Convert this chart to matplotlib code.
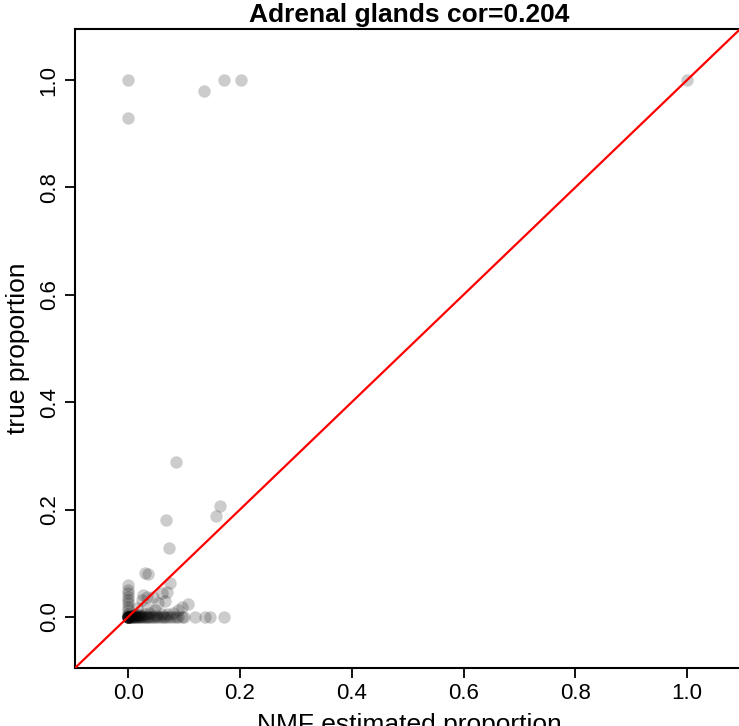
import numpy as np
import matplotlib
matplotlib.use('Agg')
import matplotlib.pyplot as plt

# values
# outliers at the top
top_x = [0.0, 0.0, 0.135, 0.171, 0.202, 1.0]
top_y = [1.0, 0.930, 0.980, 1.0, 1.0, 1.0]

# scattered points in the lower-left cluster
mid_x = [0.086, 0.165, 0.158, 0.067, 0.073, 0.030, 0.036, 0.0, 0.0, 0.0, 0.0, 0.0, 0.0, 0.0, 0.0,
         0.075, 0.069, 0.060, 0.027, 0.033, 0.045, 0.024, 0.066, 0.054, 0.108, 0.096, 0.090,
         0.033, 0.0155, 0.048]
mid_y = [0.289, 0.207, 0.188, 0.181, 0.129, 0.081, 0.0795, 0.060, 0.050, 0.044, 0.038, 0.032,
         0.026, 0.019, 0.013, 0.063, 0.047, 0.044, 0.041, 0.038, 0.038, 0.032, 0.030, 0.0255,
         0.024, 0.019, 0.013, 0.016, 0.016, 0.013]

# points lying on (or just above) true proportion = 0
low_x = [0.0, 0.0, 0.0, 0.0, 0.0, 0.0, 0.0, 0.0, 0.003, 0.005, 0.008, 0.010, 0.012, 0.015, 0.018,
         0.020, 0.022, 0.025, 0.028, 0.030, 0.033, 0.036, 0.040, 0.043, 0.047, 0.050, 0.054,
         0.058, 0.062, 0.066, 0.070, 0.075, 0.080, 0.085, 0.090, 0.096, 0.100, 0.120, 0.138,
         0.147, 0.171,
         0.0, 0.0, 0.005, 0.010, 0.015, 0.020, 0.030, 0.040, 0.050, 0.060, 0.070, 0.080,
         0.002, 0.004, 0.007, 0.012, 0.017, 0.024]
low_y = [0.0] * 41 + [0.003, 0.005, 0.002, 0.004, 0.006, 0.003, 0.005, 0.007, 0.004, 0.006,
                      0.005, 0.008,
                      0.0, 0.0, 0.0, 0.001, 0.002, 0.001]

title = 'Adrenal glands cor=0.204'
xlabel = 'NMF estimated proportion'
ylabel = 'true proportion'
ticks = [0.0, 0.2, 0.4, 0.6, 0.8, 1.0]

plt.rcParams['font.family'] = ['Liberation Sans', 'DejaVu Sans']

W, H = 739, 726
fig = plt.figure(figsize=(W / 100, H / 100), dpi=100)
# axes box runs past the right edge like in the (cropped) reference
ax = fig.add_axes([75 / W, (H - 668) / H, (743 - 75) / W, (668 - 29) / H])

xs = top_x + mid_x + low_x
ys = top_y + mid_y + low_y
ax.scatter(xs, ys, s=80, color='black', alpha=0.2, linewidths=0, zorder=2)
ax.plot([-0.2, 1.2], [-0.2, 1.2], color='red', lw=1.6, zorder=3)

ax.set_xlim(-0.095, 1.1)
ax.set_ylim(-0.095, 1.095)
ax.set_xticks(ticks)
ax.set_yticks(ticks)
ax.set_xticklabels(['%.1f' % t for t in ticks], fontsize=16)
ax.set_yticklabels(['%.1f' % t for t in ticks], fontsize=16, rotation=90, va='center')
ax.tick_params(direction='out', length=7, width=1.3, pad=4)
for sp in ax.spines.values():
    sp.set_linewidth(1.5)

ax.set_title(title, fontsize=19, fontweight='bold', pad=5)
ax.set_xlabel(xlabel, fontsize=19, labelpad=6)
ax.set_ylabel(ylabel, fontsize=19, labelpad=6)

fig.savefig('out.png', dpi=100)
